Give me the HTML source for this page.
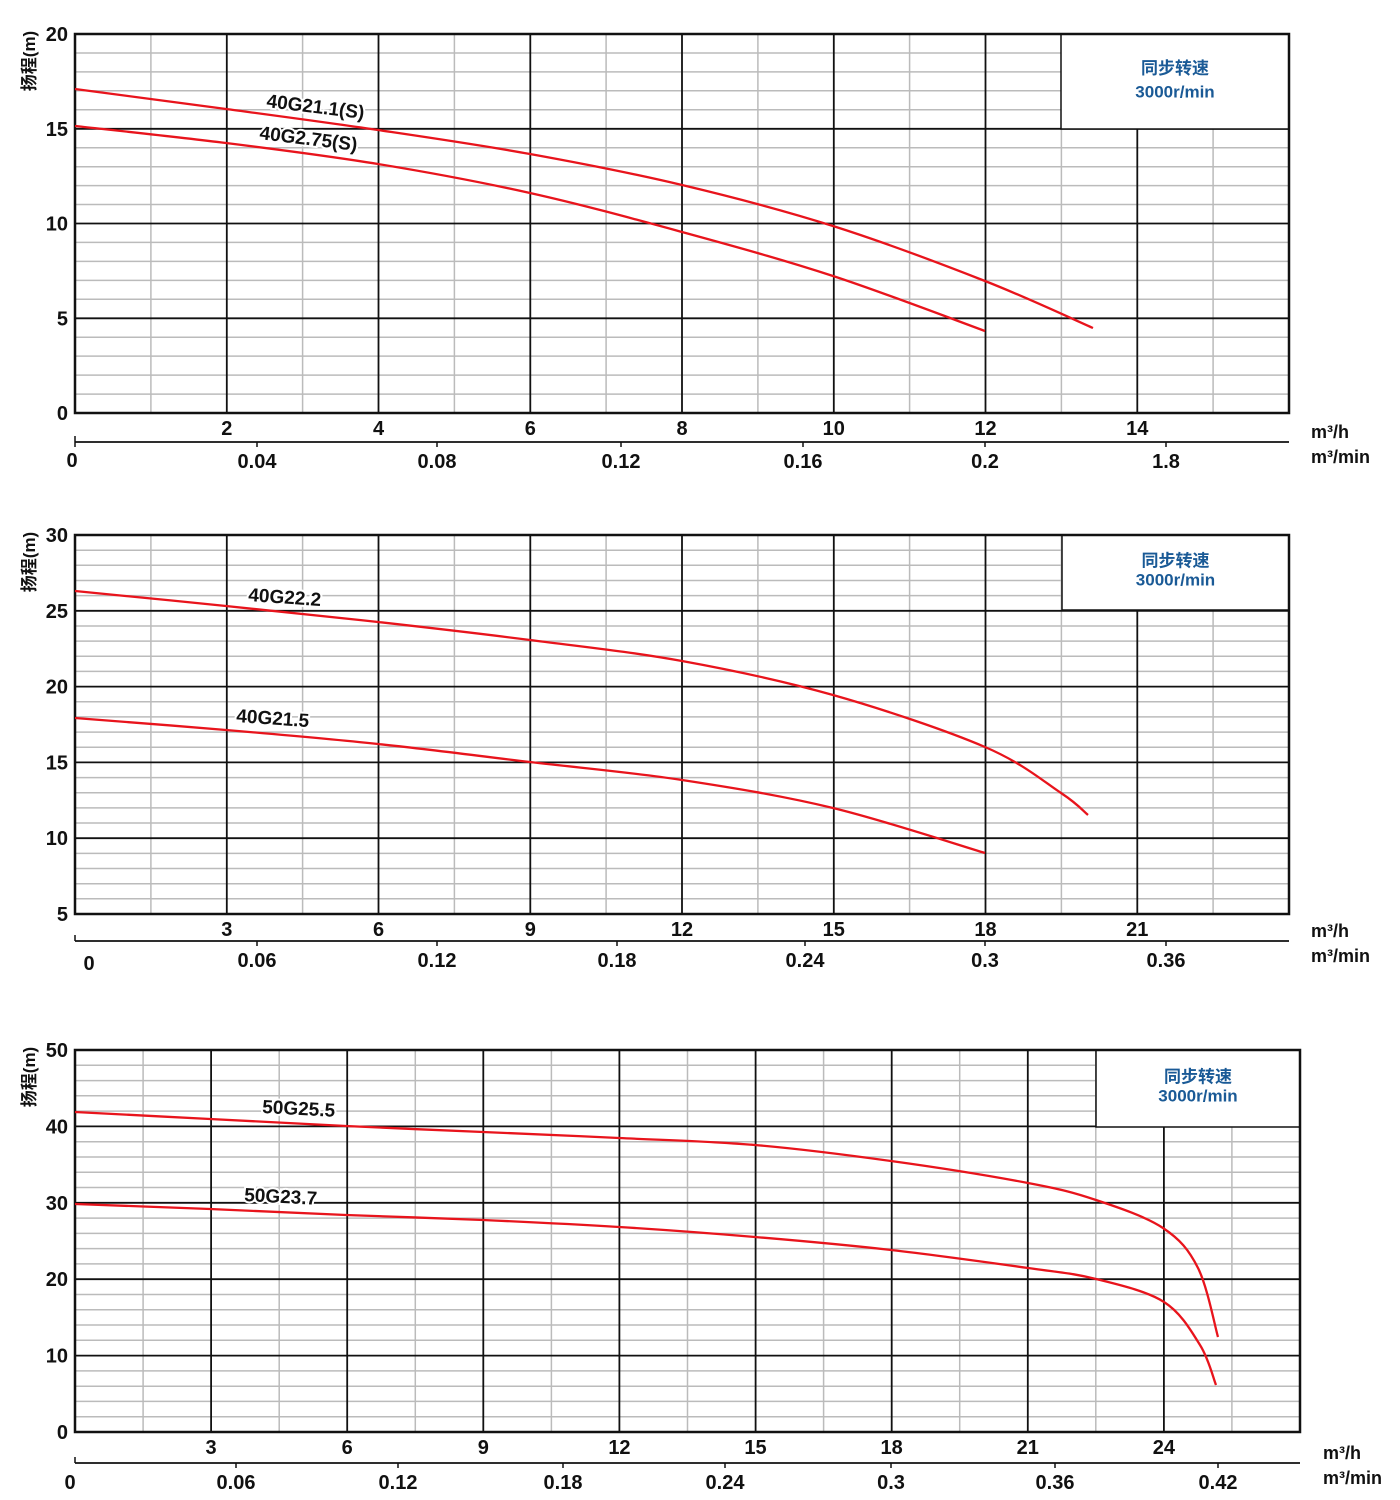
<!DOCTYPE html>
<html><head><meta charset="utf-8"><style>
html,body{margin:0;padding:0;background:#fff;}
svg{display:block;}
text{font-family:"Liberation Sans","Noto Sans CJK SC",sans-serif;font-weight:bold;fill:#111;}
</style></head><body>
<svg id="s" width="1400" height="1500" xmlns="http://www.w3.org/2000/svg"></svg>
<script>
var s=document.getElementById('s'),out='';
function L(x1,y1,x2,y2,c,w){out+='<line x1="'+x1+'" y1="'+y1+'" x2="'+x2+'" y2="'+y2+'" stroke="'+c+'" stroke-width="'+w+'"/>';}
function T(x,y,t,sz,anc,extra){out+='<text x="'+x+'" y="'+y+'" font-size="'+sz+'" text-anchor="'+(anc||'middle')+'" '+(extra||'')+'>'+t+'</text>';}
function curve(p){var d='M'+p[0][0]+','+p[0][1];
 for(var i=0;i<p.length-1;i++){var p0=p[i-1]||p[i],p1=p[i],p2=p[i+1],p3=p[i+2]||p2;
  var c1x=p1[0]+(p2[0]-p0[0])/6,c1y=p1[1]+(p2[1]-p0[1])/6,c2x=p2[0]-(p3[0]-p1[0])/6,c2y=p2[1]-(p3[1]-p1[1])/6;
  d+=' C'+c1x.toFixed(1)+','+c1y.toFixed(1)+' '+c2x.toFixed(1)+','+c2y.toFixed(1)+' '+p2[0]+','+p2[1];}
 out+='<path d="'+d+'" fill="none" stroke="#e8141c" stroke-width="2.3"/>';}
function chart(o){
 var x0=o.x0,x1=o.x1,y0=o.y0,y1=o.y1;
 var nh=o.nh, dy=(y1-y0)/nh;
 for(var i=1;i<nh;i++){var y=y0+i*dy;if(i%o.hmaj)L(x0,y.toFixed(1),x1,y.toFixed(1),'#bbb',1.5);}
 var nv=o.nv,dx=(x1-x0)/nv;
 for(var i=1;i<nv;i++){var x=x0+i*dx;if(i%2)L(x.toFixed(1),y0,x.toFixed(1),y1,'#bbb',1.5);}
 for(var i=1;i<nh;i++){var y=y0+i*dy;if(!(i%o.hmaj))L(x0,y.toFixed(1),x1,y.toFixed(1),'#111',1.8);}
 for(var i=1;i<nv;i++){var x=x0+i*dx;if(!(i%2))L(x.toFixed(1),y0,x.toFixed(1),y1,'#111',1.8);}
 out+='<rect x="'+o.bx+'" y="'+y0+'" width="'+(x1-o.bx)+'" height="'+(o.by-y0)+'" fill="#fff" stroke="#111" stroke-width="1.5"/>';
 var cx=(o.bx+x1)/2;
 T(cx,y0+(o.by-y0)*0.42,'同步转速',17,'middle','style="fill:#1a5a96"');
 T(cx,y0+(o.by-y0)*0.67,'3000r/min',17,'middle','style="fill:#1a5a96"');
 out+='<rect x="'+x0+'" y="'+y0+'" width="'+(x1-x0)+'" height="'+(y1-y0)+'" fill="none" stroke="#111" stroke-width="2.5"/>';
 for(var i=0;i<=nh/o.hmaj;i++){var y=y1-i*dy*o.hmaj;T(x0-7,y+7,o.ylab[i],20,'end');}
 for(var i=1;i<nv/2;i++){var x=x0+i*2*dx;if(o.xlab[i-1])T(x,y1+22,o.xlab[i-1],20);}
 L(x0,o.ay,x1,o.ay,'#111',1.8);L(x0,o.ay-6,x0,o.ay,'#111',1.5);
 o.sec.forEach(function(a){L(a[0],o.ay,a[0],o.ay+5,'#111',1.5);T(a[0],o.ay+26,a[1],20);});
 T(o.ux,o.ay-4,'m³/h',18,'start');T(o.ux,o.ay+21,'m³/min',18,'start');
 T(0,0,'扬程(m)',17,'middle','transform="translate('+(o.x0-40)+','+(y0+27)+') rotate(-90)"');
 o.curves.forEach(curve);
 o.labels.forEach(function(l){out+='<text x="'+l[0]+'" y="'+l[1]+'" font-size="19" transform="rotate('+l[3]+' '+l[0]+' '+l[1]+')" stroke="#fff" stroke-width="4" paint-order="stroke">'+l[2]+'</text>';});
}
chart({x0:75,x1:1289,y0:34,y1:413,nh:20,hmaj:5,nv:16,bx:1061,by:129,
 ylab:['0','5','10','15','20'],xlab:['2','4','6','8','10','12','14'],ay:442,ux:1311,
 sec:[[75,''],[257,'0.04'],[437,'0.08'],[621,'0.12'],[803,'0.16'],[985,'0.2'],[1166,'1.8']],
 curves:[[[75,89],[226,109],[378,130],[530,154],[682,185],[833,226],[985,281],[1093,328]],
  [[75,126],[226,143],[378,164],[530,193],[682,232],[833,276],[985,331]]],
 labels:[[266,107,'40G21.1(S)',7],[259,139,'40G2.75(S)',7]]});
T(72,467,'0',20);
chart({x0:75,x1:1289,y0:535,y1:914,nh:25,hmaj:5,nv:16,bx:1062,by:610,
 ylab:['5','10','15','20','25','30'],xlab:['3','6','9','12','15','18','21'],ay:941,ux:1311,
 sec:[[257,'0.06'],[437,'0.12'],[617,'0.18'],[805,'0.24'],[985,'0.3'],[1166,'0.36']],
 curves:[[[75,591],[226,606],[378,622],[530,640],[682,661],[833,695],[985,747],[1061,793],[1088,815]],
  [[75,718],[226,730],[378,744],[530,762],[682,780],[833,808],[985,853]]],
 labels:[[248,601,'40G22.2',4],[236,722,'40G21.5',4]]});
T(89,970,'0',20);
chart({x0:75,x1:1300,y0:1050,y1:1432,nh:25,hmaj:5,nv:18,bx:1096,by:1127,
 ylab:['0','10','20','30','40','50'],xlab:['3','6','9','12','15','18','21','24'],ay:1463,ux:1323,
 sec:[[236,'0.06'],[398,'0.12'],[563,'0.18'],[725,'0.24'],[891,'0.3'],[1055,'0.36'],[1218,'0.42']],
 curves:[[[75,1112],[210,1119],[346,1126],[483,1132],[619,1138],[755,1145],[891,1161],[1028,1183],[1096,1200],[1163,1228],[1198,1268],[1218,1337]],
  [[75,1204],[210,1209],[346,1215],[483,1220],[619,1227],[755,1237],[891,1250],[1028,1268],[1096,1279],[1164,1302],[1200,1345],[1216,1385]]],
 labels:[[262,1113,'50G25.5',3],[244,1201,'50G23.7',3]]});
T(70,1489,'0',20);
s.innerHTML=out;
</script>
</body></html>
